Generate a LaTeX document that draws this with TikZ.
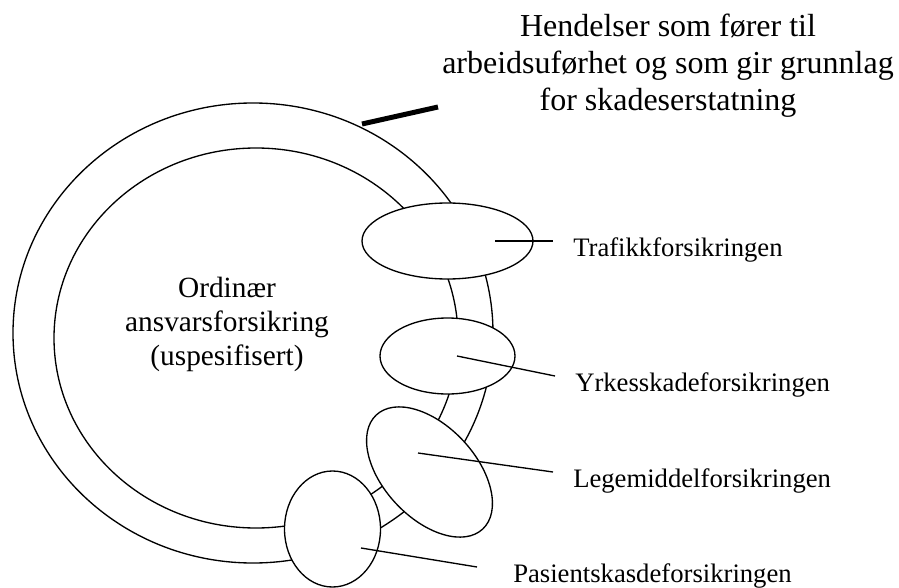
\documentclass[tikz,border=0pt]{standalone}
\usepackage{fontspec}
\setmainfont{Liberation Serif}
\usetikzlibrary{shapes.geometric}
\begin{document}
\begin{tikzpicture}[x=0.75pt,y=-0.75pt,
  outline/.style={draw=black, line width=1pt},
  ringline/.style={outline, ellipse, inner sep=0pt},
  cover/.style={outline, ellipse, fill=white, inner sep=0pt},
  pointer/.style={draw=black, line width=1pt},
  labeltext/.style={font=\fontsize{20}{24}\selectfont, inner sep=0pt, anchor=base west},
]
\useasboundingbox (0,0) rectangle (899,588);

% the ring of ordinary liability insurance
\node[ringline, minimum width=360pt, minimum height=345pt] (outer) at (253,333) {};
\node[ringline, minimum width=303pt, minimum height=285pt] (inner) at (256,338) {};

% the special schemes lying on the ring
\node[cover, minimum width=128.25pt, minimum height=57pt] (trafikk) at (447.5,241) {};
\node[cover, minimum width=101.25pt, minimum height=57pt] (yrke) at (447.5,356) {};
\node[cover, minimum width=117pt, minimum height=69pt, rotate=-47] (legemiddel) at (429.5,472) {};
\node[cover, minimum width=72pt, minimum height=87pt] (pasient) at (332.5,529) {};

% pointer ends
\coordinate (p1a) at (495,241);  \coordinate (p1b) at (553,241);
\coordinate (p2a) at (457,356);  \coordinate (p2b) at (555,376);
\coordinate (p3a) at (418,453);  \coordinate (p3b) at (553,472);
\coordinate (p4a) at (361,548);  \coordinate (p4b) at (477,567);
\draw[pointer] (p1a) -- (p1b);
\draw[pointer] (p2a) -- (p2b);
\draw[pointer] (p3a) -- (p3b);
\draw[pointer] (p4a) -- (p4b);

% thick marker on the outer ring
\coordinate (hook) at (362,124);
\coordinate (hookend) at (438,107);
\draw[line width=3.75pt] (hook) -- (hookend);

% texts
\node[align=center, inner sep=0pt, font=\fontsize{24}{27.75}\selectfont] (head) at (668,65.5)
  {Hendelser som fører til\\arbeidsuførhet og som gir grunnlag\\for skadeserstatning};
\node[align=center, inner sep=0pt, font=\fontsize{22}{25.5}\selectfont] (ordinaer) at (227,324)
  {Ordinær\\ansvarsforsikring\\(uspesifisert)};

\node[labeltext] (l1) at (573,256) {Trafikkforsikringen};
\node[labeltext] (l2) at (575,391) {Yrkesskadeforsikringen};
\node[labeltext] (l3) at (573,487) {Legemiddelforsikringen};
\node[labeltext] (l4) at (513,582) {Pasientskasdeforsikringen};
\end{tikzpicture}
\end{document}
